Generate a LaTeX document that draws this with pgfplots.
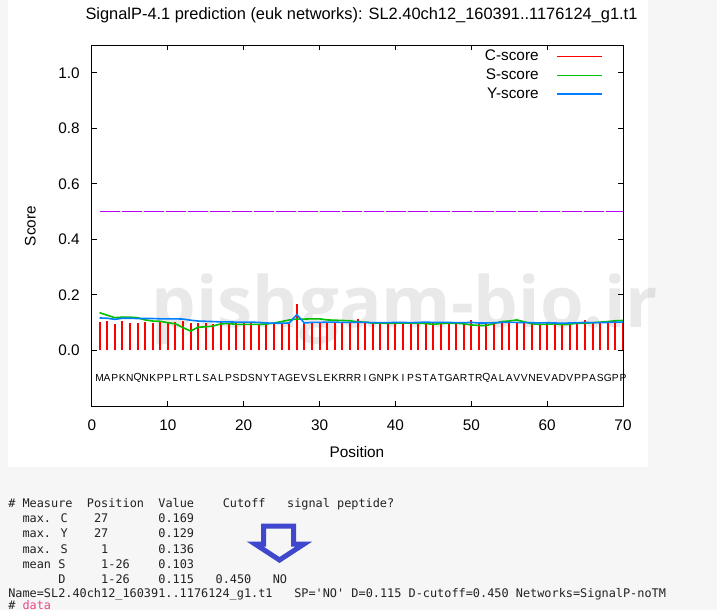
\documentclass[border=0pt]{standalone}
\usepackage{fontspec}
\setmainfont{Liberation Sans}
\newfontfamily\monofont{DejaVu Sans Mono}
\newfontfamily\wmfont{Open Sans}
\usepackage{pgfplots}
\pgfplotsset{compat=1.18}

\definecolor{gpred}{HTML}{FF0000}
\definecolor{gpgreen}{HTML}{00C000}
\definecolor{gpblue}{HTML}{0080FF}
\definecolor{gpmag}{HTML}{C000FF}
\definecolor{pagebg}{HTML}{F6F6F6}
\definecolor{arrowblue}{HTML}{3F48CC}
\definecolor{datapink}{HTML}{E8488A}
\definecolor{monotext}{HTML}{222222}

% one token of the text block: char column, baseline (px), text
\newcommand\mt[3]{\node[anchor=base west, inner sep=0pt, text=monotext,
  font=\monofont\fontsize{8.9}{10}\selectfont] at ({8+7.15*#1},#2) {#3};}
\newcommand\sq{\char39\relax}

\begin{document}
\begin{tikzpicture}
% page and watermark (pixel units, y downwards)
\begin{scope}[x=0.75pt,y=-0.75pt]
  \fill[pagebg] (0,0) rectangle (717,610);
  \fill[white] (8,0) rectangle (648,467);
  \path[use as bounding box] (0,0) rectangle (717,610);
  \node[anchor=base west, inner sep=0pt, text=black, text opacity=0.085,
    font=\wmfont\bfseries\fontsize{53}{54}\selectfont] at (151,327) {pishgam-bio.ir};
\end{scope}

\begin{axis}[
  at={(69pt,-304.5pt)}, anchor=south west,
  scale only axis, width=398.25pt, height=270.75pt,
  xmin=0, xmax=70, ymin=-0.2, ymax=1.1,
  xtick={0,10,20,30,40,50,60,70},
  ytick={0,0.2,0.4,0.6,0.8,1.0},
  tick align=inside, major tick length=3.5pt,
  axis line style={line width=0.75pt},
  tick style={black, line width=0.75pt},
  tick label style={font=\fontsize{11.5}{13}\selectfont},
  /pgf/number format/assume math mode=true,
  yticklabel style={/pgf/number format/.cd, fixed, fixed zerofill, precision=1,
    /tikz/.cd, anchor=east, inner sep=0pt, xshift=-9pt},
  xticklabel style={anchor=base, yshift=-18pt},
  legend style={at={(axis description cs:0.9623,0.986)}, anchor=north east,
    draw=none, fill=none, inner sep=0pt, outer sep=0pt,
    font=\fontsize{11.5}{13}\selectfont, row sep=4.6pt, column sep=13.5pt,
    nodes={inner sep=0pt}},
  legend cell align=right, legend plot pos=right,
]
% C-score
\addplot[ycomb, gpred, line width=1.5pt,
  legend image code/.code={\draw[gpred, line width=1pt] (0pt,0pt) -- (33.75pt,0pt);}] coordinates {
(1,0.102) (2,0.105) (3,0.094) (4,0.105) (5,0.100) (6,0.100) (7,0.102) (8,0.100) (9,0.103) (10,0.103)
(11,0.103) (12,0.105) (13,0.100) (14,0.100) (15,0.099) (16,0.096) (17,0.103) (18,0.100) (19,0.100) (20,0.100)
(21,0.098) (22,0.094) (23,0.096) (24,0.096) (25,0.100) (26,0.094) (27,0.169) (28,0.098) (29,0.100) (30,0.098)
(31,0.100) (32,0.103) (33,0.103) (34,0.103) (35,0.112) (36,0.102) (37,0.098) (38,0.096) (39,0.098) (40,0.098)
(41,0.103) (42,0.098) (43,0.103) (44,0.103) (45,0.098) (46,0.103) (47,0.103) (48,0.098) (49,0.100) (50,0.108)
(51,0.100) (52,0.096) (53,0.103) (54,0.098) (55,0.100) (56,0.103) (57,0.098) (58,0.096) (59,0.096) (60,0.098)
(61,0.096) (62,0.098) (63,0.096) (64,0.100) (65,0.111) (66,0.103) (67,0.098) (68,0.100) (69,0.110) (70,0.101)
};
\addlegendentry{C-score}
% S-score
\addplot[gpgreen, line width=1.2pt,
  legend image code/.code={\draw[gpgreen, line width=1pt] (0pt,0pt) -- (33.75pt,0pt);}] coordinates {
(1,0.136) (2,0.127) (3,0.118) (4,0.120) (5,0.120) (6,0.118) (7,0.110) (8,0.106) (9,0.105) (10,0.100)
(11,0.096) (12,0.082) (13,0.070) (14,0.084) (15,0.085) (16,0.088) (17,0.096) (18,0.097) (19,0.094) (20,0.094)
(21,0.094) (22,0.094) (23,0.095) (24,0.099) (25,0.104) (26,0.110) (27,0.113) (28,0.113) (29,0.114) (30,0.114)
(31,0.110) (32,0.109) (33,0.108) (34,0.107) (35,0.103) (36,0.102) (37,0.099) (38,0.098) (39,0.098) (40,0.098)
(41,0.099) (42,0.099) (43,0.098) (44,0.097) (45,0.094) (46,0.097) (47,0.098) (48,0.098) (49,0.096) (50,0.092)
(51,0.090) (52,0.090) (53,0.097) (54,0.104) (55,0.106) (56,0.110) (57,0.103) (58,0.096) (59,0.094) (60,0.094)
(61,0.096) (62,0.093) (63,0.095) (64,0.098) (65,0.098) (66,0.100) (67,0.102) (68,0.104) (69,0.107) (70,0.108)
};
\addlegendentry{S-score}
% Y-score
\addplot[gpblue, line width=1.2pt,
  legend image code/.code={\draw[gpblue, line width=1pt] (0pt,0pt) -- (33.75pt,0pt);}] coordinates {
(1,0.117) (2,0.116) (3,0.112) (4,0.116) (5,0.116) (6,0.115) (7,0.115) (8,0.115) (9,0.114) (10,0.114)
(11,0.114) (12,0.113) (13,0.109) (14,0.106) (15,0.105) (16,0.104) (17,0.103) (18,0.103) (19,0.102) (20,0.102)
(21,0.102) (22,0.101) (23,0.099) (24,0.098) (25,0.098) (26,0.099) (27,0.129) (28,0.099) (29,0.101) (30,0.101)
(31,0.102) (32,0.102) (33,0.101) (34,0.101) (35,0.102) (36,0.101) (37,0.100) (38,0.100) (39,0.100) (40,0.101)
(41,0.101) (42,0.100) (43,0.101) (44,0.102) (45,0.101) (46,0.101) (47,0.101) (48,0.100) (49,0.100) (50,0.101)
(51,0.099) (52,0.099) (53,0.100) (54,0.101) (55,0.101) (56,0.101) (57,0.100) (58,0.100) (59,0.099) (60,0.100)
(61,0.099) (62,0.098) (63,0.099) (64,0.100) (65,0.101) (66,0.100) (67,0.100) (68,0.101) (69,0.102) (70,0.102)
};
\addlegendentry{Y-score}
% D cutoff
\addplot[gpmag, line width=1pt, dash pattern=on 15pt off 1.5pt, forget plot]
  coordinates {(1,0.5) (70,0.5)};

% sequence
\addplot[draw=none, mark=none, forget plot, nodes near coords,
  point meta=explicit symbolic,
  every node near coord/.append style={anchor=center, text=black, inner sep=0pt,
    font=\fontsize{7.7}{8}\selectfont}] coordinates {
(1,-0.1)[M] (2,-0.1)[A] (3,-0.1)[P] (4,-0.1)[K] (5,-0.1)[N] (6,-0.1)[Q] (7,-0.1)[N] (8,-0.1)[K] (9,-0.1)[P] (10,-0.1)[P]
(11,-0.1)[L] (12,-0.1)[R] (13,-0.1)[T] (14,-0.1)[L] (15,-0.1)[S] (16,-0.1)[A] (17,-0.1)[L] (18,-0.1)[P] (19,-0.1)[S] (20,-0.1)[D]
(21,-0.1)[S] (22,-0.1)[N] (23,-0.1)[Y] (24,-0.1)[T] (25,-0.1)[A] (26,-0.1)[G] (27,-0.1)[E] (28,-0.1)[V] (29,-0.1)[S] (30,-0.1)[L]
(31,-0.1)[E] (32,-0.1)[K] (33,-0.1)[R] (34,-0.1)[R] (35,-0.1)[R] (36,-0.1)[I] (37,-0.1)[G] (38,-0.1)[N] (39,-0.1)[P] (40,-0.1)[K]
(41,-0.1)[I] (42,-0.1)[P] (43,-0.1)[S] (44,-0.1)[T] (45,-0.1)[A] (46,-0.1)[T] (47,-0.1)[G] (48,-0.1)[A] (49,-0.1)[R] (50,-0.1)[T]
(51,-0.1)[R] (52,-0.1)[Q] (53,-0.1)[A] (54,-0.1)[L] (55,-0.1)[A] (56,-0.1)[V] (57,-0.1)[V] (58,-0.1)[N] (59,-0.1)[E] (60,-0.1)[V]
(61,-0.1)[A] (62,-0.1)[D] (63,-0.1)[V] (64,-0.1)[P] (65,-0.1)[P] (66,-0.1)[A] (67,-0.1)[S] (68,-0.1)[G] (69,-0.1)[P] (70,-0.1)[P]
};
\end{axis}

\begin{scope}[x=0.75pt,y=-0.75pt]
  \node[anchor=base, inner sep=0pt, font=\fontsize{12.3}{14}\selectfont] at (361.5,19.5)
    {SignalP-4.1 prediction (euk networks): SL2.40ch12\_160391..1176124\_g1.t1};
  \node[anchor=base, inner sep=0pt, font=\fontsize{11.5}{13}\selectfont] at (357,457) {Position};
  \node[anchor=base, inner sep=0pt, rotate=90, font=\fontsize{11.5}{13}\selectfont] at (35.5,226) {Score};

  % text block below the chart
  \mt{0}{507}{\# Measure}\mt{11}{507}{Position}\mt{21}{507}{Value}\mt{30}{507}{Cutoff}\mt{39}{507}{signal peptide?}
  \mt{2}{522}{max. C}\mt{12}{522}{27}\mt{21}{522}{0.169}
  \mt{2}{537}{max. Y}\mt{12}{537}{27}\mt{21}{537}{0.129}
  \mt{2}{553}{max. S}\mt{13}{553}{1}\mt{21}{553}{0.136}
  \mt{2}{568}{mean S}\mt{13}{568}{1-26}\mt{21}{568}{0.103}
  \mt{7}{583}{D}\mt{13}{583}{1-26}\mt{21}{583}{0.115}\mt{29}{583}{0.450}\mt{37}{583}{NO}
  \mt{0}{597}{Name=SL2.40ch12\_160391..1176124\_g1.t1}\mt{40}{597}{SP=\sq NO\sq}\mt{48}{597}{D=0.115}
  \mt{56}{597}{D-cutoff=0.450}\mt{71}{597}{Networks=SignalP-noTM}
  \mt{0}{609.5}{\#}\mt{2}{609.5}{\textcolor{datapink}{data}}

  % outlined arrow
  \draw[arrowblue, line width=3.75pt, line join=miter]
    (263.5,526) -- (293.5,526) -- (293.5,544) -- (304,544) -- (279.5,560)
    -- (255,544) -- (263.5,544) -- cycle;
\end{scope}
\end{tikzpicture}
\end{document}
